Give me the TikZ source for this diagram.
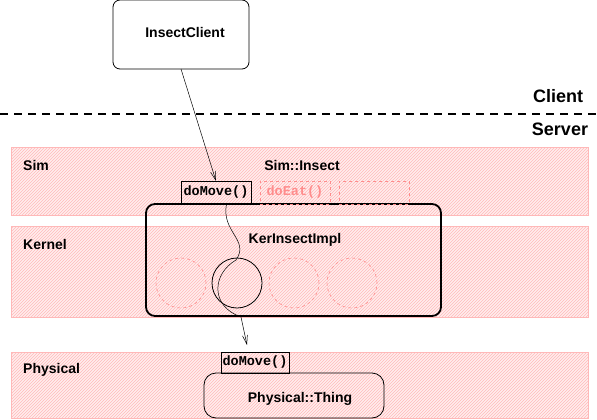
\documentclass[tikz,border=0pt]{standalone}
\usepackage{fontspec}
\setmainfont{Liberation Sans}
\setmonofont{Liberation Mono}
\usepackage{xcolor}
\usepackage{tikz}
\usetikzlibrary{positioning,arrows.meta,calc,patterns}
\definecolor{ink}{HTML}{000000}
\definecolor{bandline}{HTML}{FFB8B8}
\definecolor{bandbg}{HTML}{FFEEEE}
\definecolor{hatch}{HTML}{FFBABA}
\definecolor{ghost}{HTML}{FF8C8C}

\begin{document}
\begin{tikzpicture}[x=1pt,y=-1pt,
    band/.style={draw=bandline, line width=1pt, fill=bandbg,
      postaction={pattern=north east lines, pattern color=hatch},
      anchor=north west, inner sep=0pt, outer sep=0pt, minimum width=577pt},
    lbl/.style={font=\fontsize{14}{16}\selectfont\bfseries, text=ink,
      anchor=base west, inner sep=0pt},
    title/.style={font=\fontsize{14}{16}\selectfont\bfseries, text=ink,
      anchor=base, inner sep=0pt},
    method/.style={draw=ink, line width=0.8pt, inner sep=1pt, outer sep=0pt,
      font=\fontsize{13.5}{15}\selectfont\ttfamily\bfseries, minimum width=70pt, minimum height=23pt},
    ghostbox/.style={method, draw=ghost, dashed, text=ghost},
    slot/.style={circle, draw=ghost, dashed, line width=0.6pt, minimum size=50pt, inner sep=0pt},
    call/.style={draw=ink, line width=0.5pt, -{Straight Barb[length=9pt,width=5pt]}}]
  \useasboundingbox (0,0) rectangle (597,420);

  % layers
  \node[band, minimum height=68pt] (simband) at (11,147) {};
  \node[band, minimum height=91pt] (kerband) at (11,226) {};
  \node[band, minimum height=66pt] (physband) at (11,352) {};
  \node[lbl] (simlbl) at (23,170) {Sim};
  \node[lbl] (kerlbl) at (23,249) {Kernel};
  \node[lbl] (physlbl) at (23,373) {Physical};

  % client / server split
  \draw[line width=1.6pt, dash pattern=on 8pt off 6pt] (0,114) -- (597,114);
  \node[title, font=\fontsize{18}{20}\selectfont\bfseries] (clientlbl) at (558,102) {Client};
  \node[title, font=\fontsize{18}{20}\selectfont\bfseries] (serverlbl) at (560,135) {Server};

  \node[draw=ink, line width=0.8pt, rounded corners=7pt, minimum width=136pt,
        minimum height=69pt, anchor=north west, outer sep=0pt] (client) at (113,0) {};
  \node[title] (clientname) at (185,38) {InsectClient};

  % kernel implementation
  \node[draw=ink, line width=1.8pt, rounded corners=9pt, minimum width=295pt,
        minimum height=112pt, anchor=north west, outer sep=0pt] (impl) at (146,204) {};
  \node[title] (implname) at (295,243) {KerInsectImpl};
  \node[slot] (c1) at (181,283) {};
  \node[slot, draw=ink, solid, line width=0.8pt] (c2) at (237,283) {};
  \node[slot] (c3) at (294,283) {};
  \node[slot] (c4) at (352,283) {};

  % sim interface
  \node[title] (simname) at (302,170) {Sim::Insect};
  \node[method, anchor=south west] (simmove) at (181,204) {doMove()};
  \node[ghostbox, right=9pt of simmove] (simeat) {doEat()};
  \node[ghostbox, right=9pt of simeat] (simnone) {};

  % physical thing
  \node[draw=ink, line width=0.8pt, rounded corners=12pt, minimum width=180pt,
        minimum height=45pt, anchor=north west, outer sep=0pt] (thing) at (204,373) {};
  \node[title] (thingname) at (300,402) {Physical::Thing};
  \node[method, minimum width=68pt, minimum height=21pt, anchor=south west] (physmove) at (221,373) {doMove()};

  % calls
  \coordinate (tip) at (247,345);
  \draw[call] (client.south) -- (simmove.north);
  \draw[call] ($(simmove.south west)!0.65!(simmove.south east)$)
    .. controls (221,232) and (250,240) .. (236,260)
    .. controls (212,274) and (210,306) .. (241,317) -- (tip);
\end{tikzpicture}
\end{document}
